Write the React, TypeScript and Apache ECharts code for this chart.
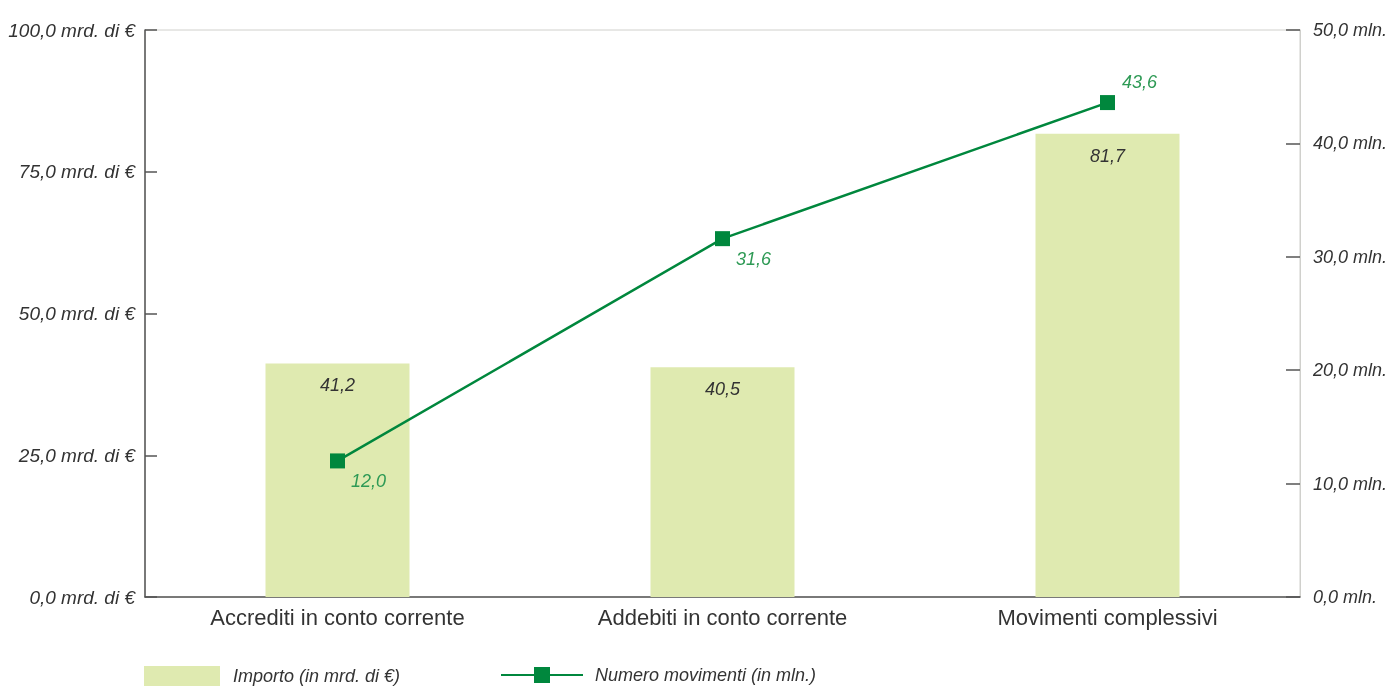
import React, { useEffect, useRef } from "react";
import * as echarts from "echarts";

const categories = ["Accrediti in conto corrente", "Addebiti in conto corrente", "Movimenti complessivi"];
const importoValues = [41.2, 40.5, 81.7];
const movimentiValues = [12.0, 31.6, 43.6];
const leftTicks = [0, 25, 50, 75, 100];
const rightTicks = [0, 10, 20, 30, 40, 50];
const seriesNames = ["Importo (in mrd. di €)", "Numero movimenti (in mln.)"];

const FONT = "'Liberation Sans', Arial, sans-serif";
const fmt = (v: number) => v.toFixed(1).replace(".", ",");

export default function App() {
  const ref = useRef<HTMLDivElement>(null);
  useEffect(() => {
    if (!ref.current) return;
    const chart = echarts.init(ref.current, undefined, { renderer: "svg" });
    const lineOffsets = movimentiValues.map((_, i) => (i === movimentiValues.length - 1 ? [32, -21] : [31, 20]));
    chart.setOption({
      animation: false,
      textStyle: { fontFamily: FONT },
      grid: {
        left: 145,
        right: 92,
        top: 30,
        bottom: 90,
        show: true,
        borderColor: "#d0d0cc",
        borderWidth: 1,
        backgroundColor: "transparent",
      },
      legend: [
        {
          left: 144,
          top: 666,
          padding: 0,
          itemWidth: 76,
          itemHeight: 20,
          icon: "rect",
          data: [seriesNames[0]],
          textStyle: { fontFamily: FONT, fontStyle: "italic", fontSize: 18, color: "#333", padding: [0, 0, 0, 8] },
        },
        {
          left: 500,
          top: 666,
          padding: 0,
          itemWidth: 82,
          itemHeight: 20,
          data: [seriesNames[1]],
          textStyle: { fontFamily: FONT, fontStyle: "italic", fontSize: 18, color: "#333", padding: [0, 0, 0, 7] },
        },
      ],
      xAxis: {
        type: "category",
        data: categories,
        axisLine: { show: true, lineStyle: { color: "#555", width: 1.5 } },
        axisTick: { show: false },
        axisLabel: { fontFamily: FONT, fontSize: 22, color: "#333", margin: 9 },
      },
      yAxis: [
        {
          type: "value",
          min: 0,
          max: 100,
          interval: 25,
          position: "left",
          axisLine: { show: true, lineStyle: { color: "#555", width: 1.5 } },
          axisTick: { show: true, inside: true, length: 12, lineStyle: { color: "#555", width: 1.5 } },
          splitLine: { show: false },
          axisLabel: {
            fontFamily: FONT,
            fontStyle: "italic",
            fontSize: 19,
            color: "#333",
            margin: 10,
            formatter: (v: number) => (leftTicks.includes(v) ? fmt(v) + " mrd. di €" : ""),
          },
        },
        {
          type: "value",
          min: 0,
          max: 50,
          interval: 10,
          position: "right",
          axisLine: { show: true, lineStyle: { color: "#d0d0cc", width: 1 } },
          axisTick: { show: true, inside: true, length: 14, lineStyle: { color: "#555", width: 1.5 } },
          splitLine: { show: false },
          axisLabel: {
            fontFamily: FONT,
            fontStyle: "italic",
            fontSize: 18,
            color: "#333",
            margin: 13,
            formatter: (v: number) => (rightTicks.includes(v) ? fmt(v) + " mln." : ""),
          },
        },
      ],
      series: [
        {
          name: seriesNames[0],
          type: "bar",
          yAxisIndex: 0,
          barWidth: 144,
          itemStyle: { color: "#dfeab0" },
          data: importoValues,
          label: {
            show: true,
            position: "insideTop",
            distance: 13,
            fontFamily: FONT,
            fontStyle: "italic",
            fontSize: 18,
            color: "#333",
            formatter: (p: any) => fmt(p.value),
          },
        },
        {
          name: seriesNames[1],
          type: "line",
          yAxisIndex: 1,
          symbol: "rect",
          symbolSize: 15,
          itemStyle: { color: "#00873d" },
          lineStyle: { color: "#00873d", width: 2.5 },
          data: movimentiValues.map((v, i) => ({
            value: v,
            label: { offset: lineOffsets[i] },
          })),
          label: {
            show: true,
            position: "inside",
            fontFamily: FONT,
            fontStyle: "italic",
            fontSize: 18,
            color: "#2e9a55",
            formatter: (p: any) => fmt(p.value),
          },
        },
      ],
    });
    return () => chart.dispose();
  }, []);
  return <div ref={ref} style={{ position: "fixed", left: 0, top: 0, width: 1392, height: 687 }} />;
}
